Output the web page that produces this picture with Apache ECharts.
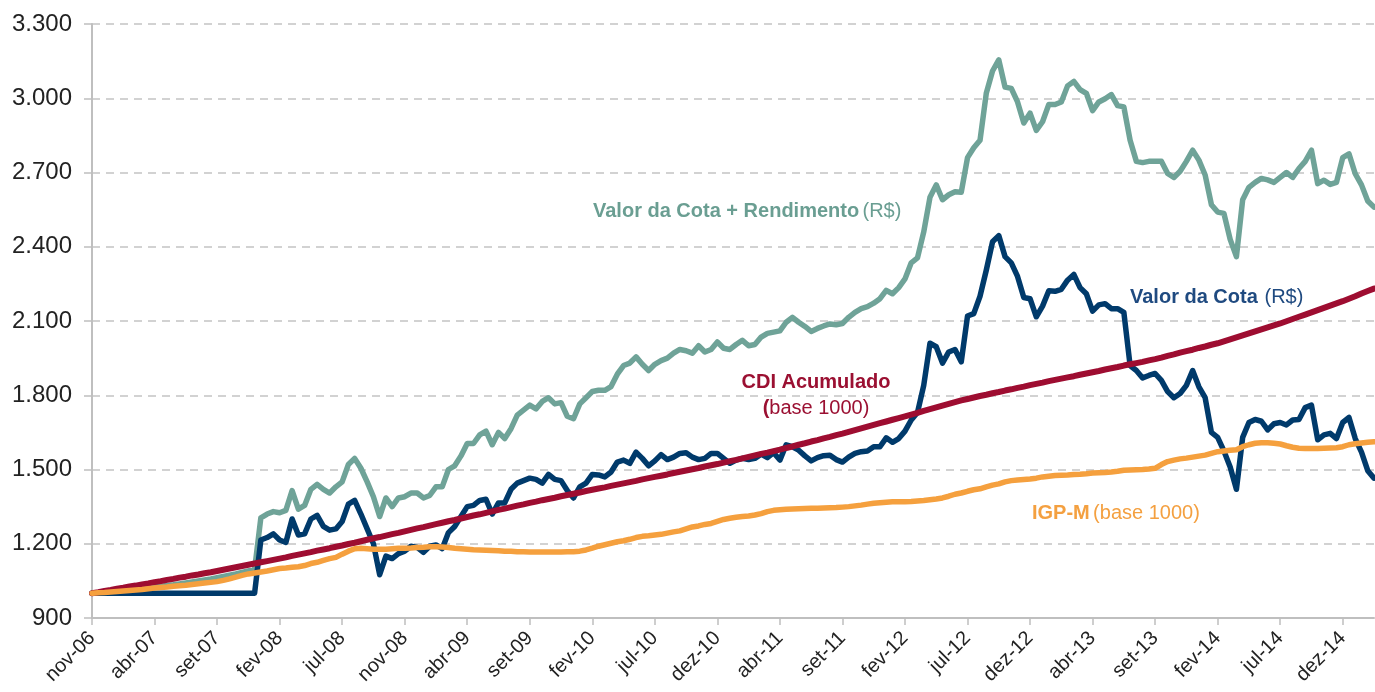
<!DOCTYPE html>
<html>
<head>
<meta charset="utf-8">
<title>Valor da Cota x CDI x IGP-M</title>
<script src="https://cdn.jsdelivr.net/npm/echarts@6/dist/echarts.min.js"></script>
<style>
  html, body { margin: 0; padding: 0; background: #fff; }
  #chart { width: 1375px; height: 692px; }
</style>
</head>
<body>
<div id="chart"></div>
<script>
// rótulos do eixo X (um a cada 10 pontos)
const tickLabels = ['nov-06', 'abr-07', 'set-07', 'fev-08', 'jul-08', 'nov-08', 'abr-09', 'set-09', 'fev-10', 'jul-10',
  'dez-10', 'abr-11', 'set-11', 'fev-12', 'jul-12', 'dez-12', 'abr-13', 'set-13', 'fev-14', 'jul-14', 'dez-14'];

// Valor da Cota + Rendimento (R$)
const cotaRendimento = [
  1000, 1002, 1005, 1007, 1010, 1012, 1015, 1017, 1020, 1022, 1025, 1028, 1031, 1034, 1038, 1042, 1046, 1050, 1054, 1058,
  1063, 1068, 1073, 1078, 1084, 1090, 1096, 1305, 1320, 1330, 1325, 1335, 1415, 1340, 1355, 1420, 1440, 1420, 1405, 1430,
  1450, 1520, 1545, 1505, 1450, 1390, 1310, 1385, 1350, 1385, 1390, 1405, 1405, 1385, 1395, 1430, 1430, 1500, 1515, 1555,
  1605, 1605, 1640, 1655, 1600, 1650, 1625, 1665, 1720, 1740, 1760, 1745, 1775, 1790, 1765, 1770, 1715, 1705, 1765, 1790,
  1815, 1820, 1820, 1835, 1885, 1920, 1930, 1955, 1925, 1900, 1925, 1940, 1950, 1970, 1985, 1980, 1970, 2000, 1975, 1985,
  2015, 1990, 1985, 2005, 2022, 2000, 2005, 2035, 2050, 2055, 2060, 2095, 2115, 2095, 2078, 2058, 2070, 2080, 2088, 2085,
  2090, 2115, 2135, 2150, 2158, 2172, 2190, 2224, 2210, 2235, 2270, 2335, 2355, 2460, 2600, 2650, 2590, 2610, 2622, 2620,
  2760, 2800, 2830, 3020, 3110, 3155, 3045, 3040, 2985, 2900, 2940, 2870, 2905, 2975, 2975, 2985, 3050, 3068, 3035, 3020,
  2950, 2985, 2998, 3015, 2970, 2965, 2830, 2745, 2740, 2745, 2745, 2745, 2696, 2680, 2705, 2745, 2790, 2750, 2690, 2570,
  2540, 2535, 2430, 2360, 2590, 2640, 2660, 2676, 2670, 2660, 2680, 2700, 2680, 2716, 2745, 2790, 2655, 2669, 2652, 2660,
  2760, 2775, 2695, 2650, 2585, 2560
];

// Valor da Cota (R$)
const valorCota = [
  1000, 1000, 1000, 1000, 1000, 1000, 1000, 1000, 1000, 1000, 1000, 1000, 1000, 1000, 1000, 1000, 1000, 1000, 1000, 1000,
  1000, 1000, 1000, 1000, 1000, 1000, 1000, 1215, 1225, 1240, 1215, 1205, 1300, 1235, 1240, 1300, 1315, 1270, 1255, 1260,
  1290, 1360, 1375, 1320, 1260, 1200, 1075, 1150, 1140, 1160, 1170, 1190, 1185, 1165, 1190, 1195, 1180, 1245, 1270, 1310,
  1350, 1355, 1375, 1380, 1320, 1365, 1365, 1420, 1445, 1455, 1465, 1460, 1445, 1480, 1460, 1455, 1415, 1385, 1430, 1445,
  1480, 1478, 1470, 1490, 1530, 1538, 1525, 1570, 1545, 1515, 1535, 1560, 1540, 1550, 1565, 1568, 1550, 1540, 1545, 1565,
  1565, 1545, 1525, 1538, 1545, 1540, 1545, 1562, 1548, 1568, 1538, 1600, 1592, 1578, 1555, 1535, 1548, 1556, 1558, 1540,
  1530, 1550, 1565, 1572, 1575, 1592, 1592, 1628, 1610, 1625, 1655, 1700, 1730, 1840, 2010, 1996, 1930, 1975, 1985, 1935,
  2120, 2130, 2200, 2305, 2420, 2445, 2360, 2335, 2280, 2195, 2190, 2117, 2160, 2222, 2220, 2228, 2265, 2288, 2235, 2210,
  2140, 2165, 2170, 2150, 2150, 2135, 1920, 1900, 1870, 1880, 1888, 1860, 1815, 1790, 1807, 1840, 1900, 1834, 1790, 1650,
  1630, 1575, 1510, 1420, 1630, 1690, 1702, 1695, 1660, 1685, 1690, 1680, 1700, 1702, 1750, 1760, 1620, 1640, 1646, 1625,
  1690, 1710, 1625, 1570, 1495, 1465
];

// CDI Acumulado (base 1000)
const cdi = [
  1000, 1004, 1009, 1013, 1018, 1022, 1027, 1031, 1036, 1040, 1045, 1049, 1054, 1058, 1063, 1067, 1072, 1076, 1081, 1085,
  1090, 1095, 1100, 1105, 1110, 1115, 1120, 1125, 1130, 1135, 1140, 1145, 1151, 1156, 1161, 1166, 1172, 1177, 1182, 1188,
  1193, 1199, 1204, 1210, 1216, 1222, 1227, 1233, 1239, 1244, 1250, 1256, 1262, 1267, 1273, 1279, 1285, 1291, 1296, 1302,
  1308, 1314, 1319, 1325, 1331, 1337, 1342, 1348, 1354, 1359, 1365, 1370, 1376, 1381, 1386, 1392, 1397, 1402, 1407, 1413,
  1418, 1423, 1428, 1434, 1439, 1444, 1449, 1454, 1460, 1465, 1470, 1475, 1480, 1486, 1491, 1496, 1501, 1506, 1512, 1517,
  1522, 1528, 1534, 1539, 1545, 1551, 1557, 1563, 1568, 1574, 1580, 1587, 1593, 1600, 1606, 1613, 1619, 1626, 1632, 1639,
  1645, 1652, 1659, 1666, 1673, 1680, 1687, 1694, 1701, 1708, 1715, 1722, 1729, 1737, 1744, 1751, 1758, 1765, 1772, 1779,
  1785, 1791, 1797, 1802, 1808, 1813, 1819, 1824, 1830, 1835, 1841, 1846, 1851, 1857, 1862, 1867, 1872, 1877, 1883, 1888,
  1893, 1898, 1904, 1909, 1914, 1920, 1925, 1930, 1935, 1941, 1946, 1952, 1959, 1965, 1972, 1978, 1984, 1991, 1997, 2004,
  2010, 2018, 2026, 2034, 2042, 2050, 2058, 2066, 2074, 2082, 2090, 2099, 2108, 2117, 2126, 2135, 2144, 2153, 2162, 2171,
  2180, 2190, 2200, 2211, 2221, 2231
];

// IGP-M (base 1000)
const igpm = [
  1000, 1002, 1003, 1005, 1007, 1009, 1011, 1013, 1015, 1018, 1021, 1023, 1025, 1028, 1030, 1032, 1035, 1038, 1041, 1044,
  1047, 1052, 1058, 1065, 1072, 1078, 1082, 1086, 1090, 1095, 1100, 1102, 1105, 1107, 1112, 1120, 1125, 1133, 1140, 1145,
  1158, 1170, 1180, 1182, 1180, 1178, 1178, 1178, 1180, 1182, 1182, 1183, 1185, 1186, 1188, 1188, 1187, 1185, 1182, 1180,
  1178, 1176, 1175, 1174, 1173, 1172, 1170, 1170, 1168, 1168, 1167, 1167, 1167, 1167, 1167, 1167, 1168, 1168, 1170, 1175,
  1182, 1190, 1196, 1202, 1208, 1212, 1218, 1225, 1230, 1232, 1235, 1238, 1243, 1248, 1252, 1260, 1268, 1272, 1278, 1282,
  1290, 1298, 1303, 1307, 1310, 1312, 1316, 1322, 1330, 1335, 1337, 1339, 1340, 1341, 1342, 1343, 1343, 1344, 1345, 1346,
  1348, 1350, 1353, 1356, 1360, 1364, 1366, 1368, 1370, 1370, 1370, 1371, 1373, 1375, 1378, 1381, 1385, 1392, 1400, 1405,
  1412, 1418, 1422, 1430, 1437, 1442, 1450, 1455, 1458, 1460, 1462, 1465, 1470, 1473, 1476, 1477, 1478, 1480, 1481, 1483,
  1486, 1487, 1488, 1490, 1493, 1497, 1498, 1499, 1500, 1502, 1505, 1520, 1532, 1538, 1543, 1546, 1550, 1554, 1558, 1565,
  1572, 1575, 1578, 1580, 1592, 1600, 1606, 1608, 1608, 1606, 1603, 1596, 1590, 1586, 1585, 1585, 1585, 1586, 1587, 1588,
  1592, 1600, 1604, 1607, 1610, 1612
];

// categorias: um rótulo real a cada 10 pontos, o resto só para identificar
const STEP = 10;
const categories = cotaRendimento.map((v, i) =>
  i % STEP === 0 && tickLabels[i / STEP] ? tickLabels[i / STEP] : 'p' + i
);
const isTick = (index) => index % STEP === 0;

const FONT = '"Liberation Sans", Arial, Helvetica, sans-serif';
const fmtMilhar = (v) => String(v).replace(/\B(?=(\d{3})+(?!\d))/g, '.');

const chart = echarts.init(document.getElementById('chart'));

const lineSeries = (name, data, color, width) => ({
  name,
  type: 'line',
  data,
  showSymbol: false,
  symbol: 'none',
  lineStyle: { color, width, join: 'round', cap: 'round' },
  itemStyle: { color },
  emphasis: { disabled: true },
  animation: false
});

// texto com parte em negrito e parte normal
const richLabel = (fill) => ({
  b: { fontSize: 20, fontWeight: 'bold', fontFamily: FONT, fill },
  n: { fontSize: 20, fontFamily: FONT, fill }
});

chart.setOption({
  animation: false,
  grid: { left: 92, right: 1, top: 24, bottom: 74, containLabel: false, outerBoundsMode: 'none' },
  xAxis: {
    type: 'category',
    data: categories,
    boundaryGap: false,
    axisLine: { show: true, lineStyle: { color: '#bfbfbf', width: 2 } },
    axisTick: { show: true, interval: isTick, length: 7, lineStyle: { color: '#bfbfbf', width: 1.5 } },
    axisLabel: {
      interval: isTick,
      rotate: 45,
      margin: 17,
      fontSize: 20,
      fontFamily: FONT,
      color: '#222',
      hideOverlap: false
    },
    splitLine: { show: false }
  },
  yAxis: {
    type: 'value',
    min: 900,
    max: 3300,
    interval: 300,
    axisLine: { show: true, lineStyle: { color: '#bfbfbf', width: 2 } },
    axisTick: { show: true, length: 8, lineStyle: { color: '#bfbfbf', width: 1.5 } },
    axisLabel: {
      margin: 20,
      fontSize: 24,
      fontFamily: FONT,
      color: '#222',
      formatter: fmtMilhar
    },
    splitLine: { show: true, lineStyle: { color: '#c4c4c4', width: 1.5, type: [8, 6] } }
  },
  series: [
    lineSeries('Valor da Cota + Rendimento', cotaRendimento, '#6fa398', 5.5),
    lineSeries('Valor da Cota', valorCota, '#003a6b', 5.5),
    lineSeries('CDI Acumulado', cdi, '#9e0d31', 6),
    lineSeries('IGP-M', igpm, '#f5a03e', 5.5)
  ],
  // rótulos das séries dentro do gráfico
  graphic: [
    {
      type: 'text', x: 593, y: 211,
      style: {
        text: '{b|Valor da Cota + Rendimento} {n|(R$)}',
        verticalAlign: 'middle',
        rich: richLabel('#6a9e92')
      }
    },
    {
      type: 'text', x: 816, y: 382,
      style: {
        text: '{b|CDI Acumulado}',
        align: 'center', verticalAlign: 'middle',
        rich: richLabel('#9b1032')
      }
    },
    {
      type: 'text', x: 816, y: 408,
      style: {
        text: '{b|(}{n|base 1000)}',
        align: 'center', verticalAlign: 'middle',
        rich: richLabel('#9b1032')
      }
    },
    {
      type: 'text', x: 1130, y: 297,
      style: {
        text: '{b|Valor da Cota}  {n|(R$)}',
        verticalAlign: 'middle',
        rich: richLabel('#1f4a80')
      }
    },
    {
      type: 'text', x: 1032, y: 513,
      style: {
        text: '{b|IGP-M} {n|(base 1000)}',
        verticalAlign: 'middle',
        rich: richLabel('#f4a040')
      }
    }
  ]
});
</script>
</body>
</html>
